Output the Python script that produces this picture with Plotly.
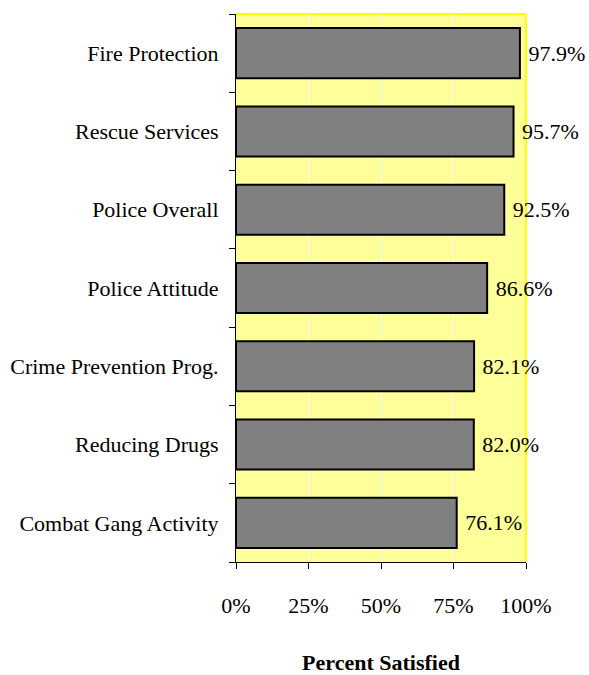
import plotly.graph_objects as go

# Satisfaction ratings by service
services = [
    "Fire Protection",
    "Rescue Services",
    "Police Overall",
    "Police Attitude",
    "Crime Prevention Prog.",
    "Reducing Drugs",
    "Combat Gang Activity",
]
satisfied = [0.979, 0.957, 0.925, 0.866, 0.821, 0.820, 0.761]
x_ticks = [0, 0.25, 0.5, 0.75, 1.0]
x_tick_labels = ["0%", "25%", "50%", "75%", "100%"]

serif = "Liberation Serif, Times New Roman, serif"
fsize = 22

fig = go.Figure(
    go.Bar(
        x=satisfied,
        y=services,
        orientation="h",
        marker=dict(color="#808080", line=dict(color="black", width=2)),
        text=[f" {v * 100:.1f}%" for v in satisfied],
        textposition="outside",
        textfont=dict(family=serif, size=fsize, color="black"),
        cliponaxis=False,
        width=0.64,
    )
)

fig.update_layout(
    width=589,
    height=675,
    margin=dict(l=236, r=63, t=14, b=113),
    paper_bgcolor="white",
    plot_bgcolor="#FFFF99",
    showlegend=False,
    font=dict(family=serif, size=fsize, color="black"),
)

fig.update_xaxes(
    automargin=False,
    range=[0, 1],
    tickvals=x_ticks,
    ticktext=x_tick_labels,
    ticks="outside",
    ticklen=6,
    tickcolor="black",
    showline=True,
    linecolor="black",
    linewidth=1,
    showgrid=True,
    gridcolor="white",
    gridwidth=1,
    zeroline=False,
    tickfont=dict(family=serif, size=fsize),
    ticklabelstandoff=18,
    title=dict(
        text="<b>Percent Satisfied</b>",
        font=dict(family=serif, size=fsize),
        standoff=38,
    ),
)

fig.update_yaxes(
    automargin=False,
    categoryorder="array",
    categoryarray=services[::-1],
    tickson="boundaries",
    ticks="outside",
    ticklen=6,
    tickcolor="black",
    showline=True,
    linecolor="black",
    linewidth=1,
    showgrid=False,
    tickfont=dict(family=serif, size=fsize),
    ticklabelstandoff=12,
)

# Yellow frame along the top and right of the plotting area
fig.add_shape(type="line", xref="x domain", yref="y domain", layer="below",
              x0=0, x1=1, y0=1, y1=1, line=dict(color="#FFFF00", width=2))
fig.add_shape(type="line", xref="x domain", yref="y domain", layer="below",
              x0=1, x1=1, y0=0, y1=1, line=dict(color="#FFFF00", width=2))

fig.write_html("out.html")
